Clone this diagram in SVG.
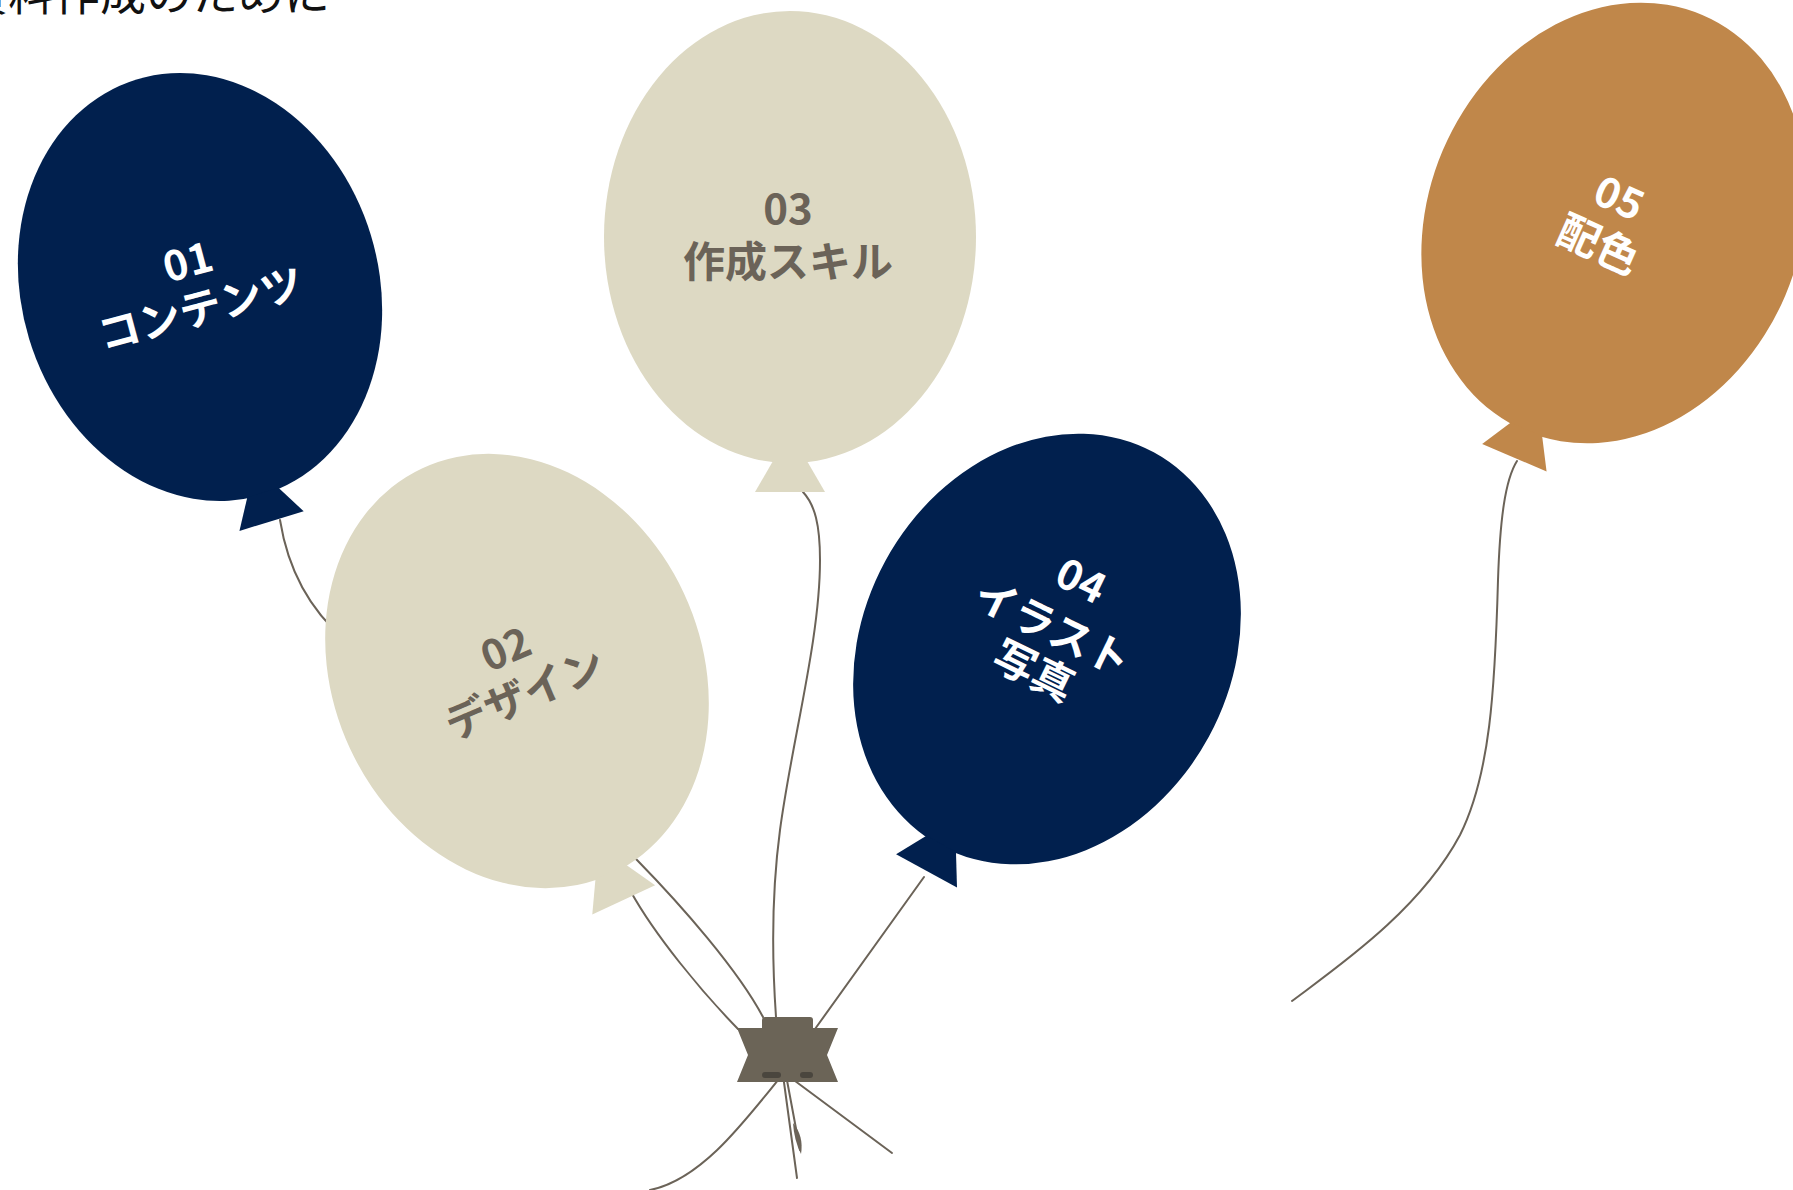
<svg xmlns="http://www.w3.org/2000/svg" xmlns:xlink="http://www.w3.org/1999/xlink" width="1793" height="1190" viewBox="0 0 1793 1190">
  <style>
    .str { fill: none; stroke: #6B6358; stroke-width: 2; stroke-linecap: round; }
    .lbl { font-family: "Noto Sans CJK JP", "Noto Sans", sans-serif; font-weight: 700; font-size: 42px; text-anchor: middle; }
    .on-dark { fill: #FFFFFF; }
    .on-light { fill: #6B6358; }
    .title { font-family: "Noto Sans CJK JP", "Noto Sans", sans-serif; font-size: 46px; fill: #111111; }
  </style>
  <defs>
    <!-- balloon body with its tied neck, centred on (0,0) -->
    <g id="balloon">
      <ellipse cx="0" cy="0" rx="186" ry="226"/>
      <polygon points="-17,224 17,224 35,255 -35,255"/>
    </g>
  </defs>

  <rect width="1793" height="1190" fill="#FFFFFF"/>

  <text class="title" x="-38" y="10">資料作成のために</text>

  <!-- strings -->
  <g id="strings">
    <path class="str" d="M280,520 C288,570 310,610 345,640 C450,730 560,780 637,860 C682,906 738,970 763,1017"/>
    <path class="str" d="M631,892 C655,935 700,990 738,1029"/>
    <path class="str" d="M803,492 C815,505 820,525 820,560 C820,640 792,740 780,830 C772,890 772,960 776,1017"/>
    <path class="str" d="M924,877 L815,1029"/>
    <path class="str" d="M1517,461 C1505,480 1500,520 1498,580 C1495,690 1490,775 1460,835 C1420,910 1340,965 1292,1001"/>
    <path class="str" d="M782,1075 C742,1125 700,1180 650,1190"/>
    <path class="str" d="M787,1075 L892,1153"/>
    <path class="str" d="M783,1075 L797,1178"/>
    <path class="str" d="M786,1075 L800,1150"/>
    <path d="M793,1123 Q804,1136 801,1154 Q794,1140 793,1123 Z" fill="#6B6358"/>
  </g>

  <g id="balloon-01">
    <use xlink:href="#balloon" href="#balloon" fill="#01204E" transform="translate(200,287) rotate(-17) scale(0.96)"/>
    <g transform="translate(194,285) rotate(-15)">
      <text class="lbl on-dark" x="0" y="-9">01</text>
      <text class="lbl on-dark" x="0" y="40">コンテンツ</text>
    </g>
  </g>

  <g id="balloon-02">
    <use xlink:href="#balloon" href="#balloon" fill="#DDD9C3" transform="translate(517,671) rotate(-25) scale(0.99)"/>
    <g transform="translate(515,671) rotate(-23)">
      <text class="lbl on-light" x="0" y="-9">02</text>
      <text class="lbl on-light" x="0" y="40">デザイン</text>
    </g>
  </g>

  <g id="balloon-03">
    <use xlink:href="#balloon" href="#balloon" fill="#DDD9C3" transform="translate(790,237)"/>
    <g transform="translate(788,235)">
      <text class="lbl on-light" x="0" y="-11">03</text>
      <text class="lbl on-light" x="0" y="42">作成スキル</text>
    </g>
  </g>

  <g id="balloon-04">
    <use xlink:href="#balloon" href="#balloon" fill="#01204E" transform="translate(1047,649) rotate(28.5) scale(0.99)"/>
    <g transform="translate(1053,627) rotate(26)">
      <text class="lbl on-dark" x="5" y="-39">04</text>
      <text class="lbl on-dark" x="0" y="16">イラスト</text>
      <text class="lbl on-dark" x="2" y="63">写真</text>
    </g>
  </g>

  <g id="balloon-05">
    <use xlink:href="#balloon" href="#balloon" fill="#C0874A" transform="translate(1614,223) rotate(23)"/>
    <g transform="translate(1609,221) rotate(24)">
      <text class="lbl on-dark" x="0" y="-10">05</text>
      <text class="lbl on-dark" x="0" y="41">配色</text>
    </g>
  </g>

  <!-- clip that gathers the strings -->
  <g id="tie">
    <rect x="762" y="1017" width="51" height="14" rx="3" fill="#6B6457"/>
    <polygon points="737,1028 838,1028 827,1055 838,1082 737,1082 748,1055" fill="#6B6457"/>
    <rect x="762" y="1072" width="19" height="6" rx="3" fill="#4A463E"/>
    <rect x="800" y="1072" width="13" height="6" rx="3" fill="#4A463E"/>
  </g>
</svg>
